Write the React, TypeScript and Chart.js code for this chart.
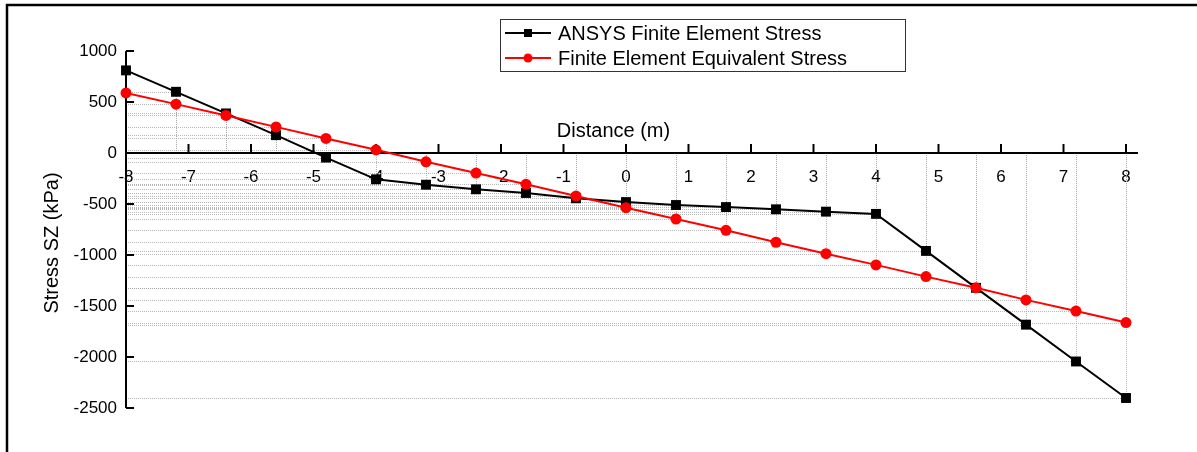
import React, { useEffect, useRef } from "react";
import { Chart, registerables } from "chart.js";

Chart.register(...registerables);

const distances = [-8, -7.2, -6.4, -5.6, -4.8, -4, -3.2, -2.4, -1.6, -0.8, 0, 0.8, 1.6, 2.4, 3.2, 4, 4.8, 5.6, 6.4, 7.2, 8];
const ansysStress = [810, 600, 388, 175, -45, -258, -311, -356, -392, -444, -481, -510, -530, -552, -575, -597, -960, -1322, -1683, -2044, -2402];
const equivalentStress = [589, 479, 368, 256, 143, 31, -86, -197, -307, -422, -536, -647, -758, -875, -987, -1097, -1212, -1322, -1440, -1550, -1662];
const xTickValues = [-8, -7, -6, -5, -4, -3, -2, -1, 0, 1, 2, 3, 4, 5, 6, 7, 8];
const yTickValues = [1000, 500, 0, -500, -1000, -1500, -2000, -2500];
const seriesNames = ["ANSYS Finite Element Stress", "Finite Element Equivalent Stress"];
const xTitle = "Distance (m)";
const yTitle = "Stress SZ (kPa)";

const FONT = 'Arial, "Liberation Sans", sans-serif';

const decorPlugin = {
  id: "decor",
  beforeDatasetsDraw(chart: any) {
    const { ctx, scales } = chart;
    const xs = scales.x;
    const ys = scales.y;
    const y0 = ys.getPixelForValue(0);
    const xLeft = xs.getPixelForValue(-8);
    ctx.save();
    ctx.strokeStyle = "rgba(160,160,160,0.75)";
    ctx.lineWidth = 1;
    ctx.setLineDash([1, 1]);
    chart.data.datasets.forEach((ds: any) => {
      ds.data.forEach((p: any) => {
        const px = xs.getPixelForValue(p.x);
        const py = ys.getPixelForValue(p.y);
        ctx.beginPath();
        ctx.moveTo(Math.round(px) + 0.5, y0);
        ctx.lineTo(Math.round(px) + 0.5, py);
        ctx.stroke();
        ctx.beginPath();
        ctx.moveTo(xLeft, Math.round(py) + 0.5);
        ctx.lineTo(px, Math.round(py) + 0.5);
        ctx.stroke();
      });
    });
    ctx.setLineDash([]);
    // axes
    ctx.strokeStyle = "#000";
    ctx.lineWidth = 2;
    const top = ys.getPixelForValue(1000);
    const bottom = ys.getPixelForValue(-2500);
    ctx.beginPath();
    ctx.moveTo(xLeft, top);
    ctx.lineTo(xLeft, bottom);
    ctx.stroke();
    ctx.beginPath();
    ctx.moveTo(xLeft, y0);
    ctx.lineTo(xs.getPixelForValue(8) + 12, y0);
    ctx.stroke();
    yTickValues.forEach((v) => {
      const py = ys.getPixelForValue(v);
      ctx.beginPath();
      ctx.moveTo(xLeft, py);
      ctx.lineTo(xLeft + 8, py);
      ctx.stroke();
    });
    xTickValues.forEach((v) => {
      const px = xs.getPixelForValue(v);
      ctx.beginPath();
      ctx.moveTo(px, y0);
      ctx.lineTo(px, y0 - 9);
      ctx.stroke();
    });
    ctx.restore();
  },
  afterDraw(chart: any) {
    const { ctx, scales } = chart;
    const xs = scales.x;
    const ys = scales.y;
    ctx.save();
    // frame
    ctx.strokeStyle = "#000";
    ctx.lineWidth = 2.5;
    ctx.beginPath();
    ctx.moveTo(7, 460);
    ctx.lineTo(7, 5);
    ctx.lineTo(1210, 5);
    ctx.stroke();
    // titles
    ctx.fillStyle = "#000";
    ctx.font = `20px ${FONT}`;
    ctx.textAlign = "center";
    ctx.textBaseline = "middle";
    ctx.fillText(xTitle, (xs.getPixelForValue(-0.2)), ys.getPixelForValue(0) - 22);
    ctx.save();
    ctx.translate(52, 243);
    ctx.rotate(-Math.PI / 2);
    ctx.fillText(yTitle, 0, 0);
    ctx.restore();
    // legend
    const lx = 500, ly = 19, lw = 405, lh = 52;
    ctx.strokeStyle = "#333";
    ctx.lineWidth = 1;
    ctx.strokeRect(lx + 0.5, ly + 0.5, lw, lh);
    chart.data.datasets.forEach((ds: any, i: number) => {
      const cy = ly + 14 + i * 25;
      ctx.strokeStyle = ds.borderColor;
      ctx.lineWidth = 2;
      ctx.beginPath();
      ctx.moveTo(lx + 5, cy);
      ctx.lineTo(lx + 51, cy);
      ctx.stroke();
      ctx.fillStyle = ds.pointBackgroundColor;
      if (ds.pointStyle === "rect") {
        ctx.fillRect(lx + 28 - 4, cy - 4, 8, 8);
      } else {
        ctx.beginPath();
        ctx.arc(lx + 28, cy, 4.5, 0, Math.PI * 2);
        ctx.fill();
      }
      ctx.fillStyle = "#000";
      ctx.font = `20px ${FONT}`;
      ctx.textAlign = "left";
      ctx.textBaseline = "middle";
      ctx.fillText(ds.label, lx + 58, cy + 1);
    });
    ctx.restore();
  },
};

export default function App() {
  const ref = useRef<HTMLCanvasElement | null>(null);
  useEffect(() => {
    if (!ref.current) return;
    const chart = new Chart(ref.current, {
      type: "line",
      data: {
        datasets: [
          {
            label: seriesNames[0],
            data: distances.map((x, i) => ({ x, y: ansysStress[i] })),
            borderColor: "#000000",
            backgroundColor: "#000000",
            pointBackgroundColor: "#000000",
            pointBorderColor: "#000000",
            pointStyle: "rect",
            pointRadius: 7,
            borderWidth: 2,
            pointBorderWidth: 0,
            tension: 0,
            order: 1,
            clip: false,
          },
          {
            label: seriesNames[1],
            data: distances.map((x, i) => ({ x, y: equivalentStress[i] })),
            borderColor: "#ff0000",
            backgroundColor: "#ff0000",
            pointBackgroundColor: "#ff0000",
            pointBorderColor: "#ff0000",
            pointStyle: "circle",
            pointRadius: 5.5,
            borderWidth: 2,
            pointBorderWidth: 0,
            tension: 0,
            order: 0,
            clip: false,
          },
        ],
      },
      options: {
        animation: false,
        responsive: false,
        maintainAspectRatio: false,
        layout: { padding: { left: 0, top: 51, right: 71, bottom: 44 } },
        plugins: { legend: { display: false }, tooltip: { enabled: false } },
        scales: {
          x: {
            type: "linear",
            position: { y: 0 },
            min: -8,
            max: 8,
            afterFit: (s: any) => {
              s.height = 0;
            },
            afterBuildTicks: (s: any) => {
              s.ticks = xTickValues.map((v) => ({ value: v }));
            },
            grid: { display: false, drawTicks: false },
            border: { display: false },
            ticks: {
              color: "#000",
              font: { family: FONT, size: 17 },
              padding: 14,
              maxRotation: 0,
              autoSkip: false,
              callback: (v: any) => String(v),
            },
          },
          y: {
            type: "linear",
            position: "left",
            min: -2500,
            max: 1000,
            afterFit: (s: any) => {
              s.width = 126;
            },
            afterBuildTicks: (s: any) => {
              s.ticks = yTickValues.map((v) => ({ value: v }));
            },
            grid: { display: false, drawTicks: false },
            border: { display: false },
            ticks: {
              color: "#000",
              font: { family: FONT, size: 17 },
              padding: 9,
              autoSkip: false,
              callback: (v: any) => String(v),
            },
          },
        },
      },
      plugins: [decorPlugin],
    } as any);
    return () => chart.destroy();
  }, []);
  return (
    <div style={{ position: "fixed", left: 0, top: 0, width: 1197, height: 452, background: "#fff" }}>
      <canvas ref={ref} width={1197} height={452} style={{ width: 1197, height: 452, display: "block" }} />
    </div>
  );
}
